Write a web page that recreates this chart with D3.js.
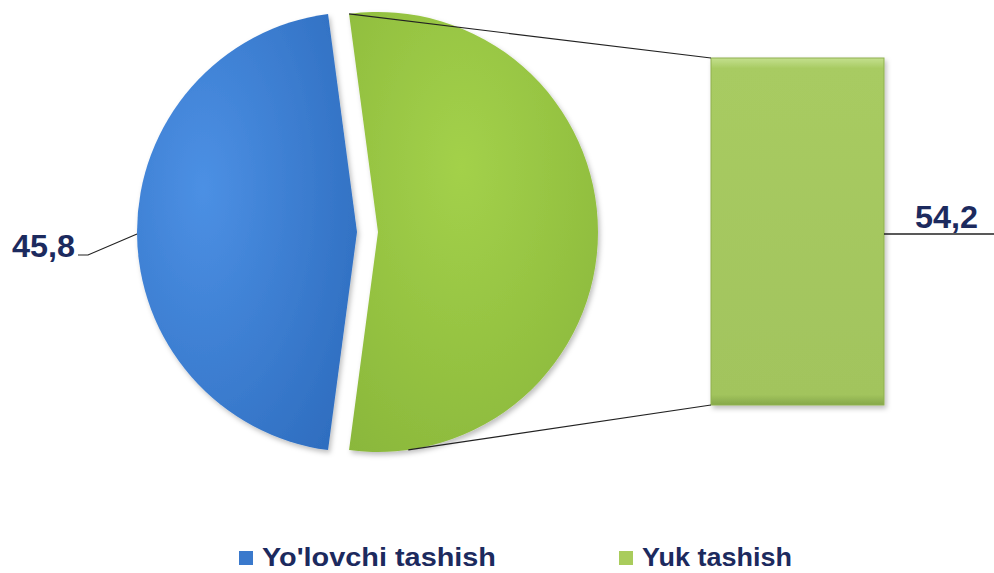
<!DOCTYPE html>
<html><head><meta charset="utf-8">
<script src="https://cdn.jsdelivr.net/npm/d3@7"></script>
<style>html,body{margin:0;padding:0;background:#fff;}svg{display:block;}</style>
</head><body>
<svg id="c" width="994" height="573"></svg>
<script>
const categories = ["Yo'lovchi tashish", "Yuk tashish"];
const values = [45.8, 54.2];
const labels = ["45,8", "54,2"];

const svg = d3.select("#c");
const defs = svg.append("defs");

const gb = defs.append("radialGradient").attr("id","gBlue").attr("cx","30%").attr("cy","40%").attr("r","80%");
gb.append("stop").attr("offset","0%").attr("stop-color","#4C90E4");
gb.append("stop").attr("offset","100%").attr("stop-color","#2F6EC0");
const gg = defs.append("radialGradient").attr("id","gGreen").attr("cx","45%").attr("cy","35%").attr("r","85%");
gg.append("stop").attr("offset","0%").attr("stop-color","#A3D14A");
gg.append("stop").attr("offset","100%").attr("stop-color","#88B53A");
const gbar = defs.append("linearGradient").attr("id","gBar").attr("x1","0").attr("y1","0").attr("x2","0").attr("y2","1");
gbar.append("stop").attr("offset","0%").attr("stop-color","#C4E08E");
gbar.append("stop").attr("offset","3%").attr("stop-color","#A8CB62");
gbar.append("stop").attr("offset","97%").attr("stop-color","#A2C45D");
gbar.append("stop").attr("offset","100%").attr("stop-color","#86A84A");
const f = defs.append("filter").attr("id","sh").attr("x","-10%").attr("y","-10%").attr("width","130%").attr("height","130%");
f.append("feDropShadow").attr("dx",2).attr("dy",3).attr("stdDeviation",2.5).attr("flood-color","#000").attr("flood-opacity",0.25);

// pie geometry: secondary (green) slice centered at 3 o'clock
const cx = 357, cy = 232, R = 220, explode = 21;
const greenSpan = 2*Math.PI*values[1]/d3.sum(values);
const start = Math.PI/2 - greenSpan/2;
const pie = d3.pie().sort(null).value(d => d.v)
  .startAngle(start).endAngle(start + 2*Math.PI);
const arcsData = pie([{i:1, v:values[1]}, {i:0, v:values[0]}]);
const arc = d3.arc().innerRadius(0).outerRadius(R);

const pg = svg.append("g").attr("filter","url(#sh)");
arcsData.forEach(a => {
  const mid = (a.startAngle + a.endAngle)/2;
  const off = a.data.i === 1 ? explode : 0;
  const tx = cx + off*Math.sin(mid), ty = cy - off*Math.cos(mid);
  a.tx = tx; a.ty = ty;
  pg.append("path").attr("d", arc(a))
    .attr("transform", `translate(${tx},${ty})`)
    .attr("fill", a.data.i === 1 ? "url(#gGreen)" : "url(#gBlue)");
});

// secondary bar
const bx0 = 711, bx1 = 884, bTop = 58, bBot = 405;
const y = d3.scaleLinear().domain([0, values[1]]).range([bBot, bTop]);
svg.append("rect").attr("x", bx0).attr("y", y(values[1]))
  .attr("width", bx1 - bx0).attr("height", y(0) - y(values[1]))
  .attr("fill","url(#gBar)").attr("stroke","#8FB050").attr("stroke-width",1)
  .attr("filter","url(#sh)");

// connector lines
const ga = arcsData.find(a => a.data.i === 1);
const p1 = [ga.tx + R*Math.sin(ga.startAngle), ga.ty - R*Math.cos(ga.startAngle)];
const ang2 = ga.endAngle - 0.27;
const p2 = [ga.tx + R*Math.sin(ang2), ga.ty - R*Math.cos(ang2)];
svg.append("line").attr("x1",p1[0]).attr("y1",p1[1]).attr("x2",bx0).attr("y2",y(values[1]))
  .attr("stroke","#222").attr("stroke-width",1.2);
svg.append("line").attr("x1",p2[0]).attr("y1",p2[1]).attr("x2",bx0).attr("y2",y(0))
  .attr("stroke","#222").attr("stroke-width",1.2);

// data labels
const txtColor = "#1C2A5E";
const font = "'Liberation Sans', Arial, sans-serif";
svg.append("text").attr("x", 12).attr("y", 257)
  .attr("font-family", font).attr("font-weight","bold").attr("font-size",31)
  .attr("textLength", 63).attr("lengthAdjust","spacingAndGlyphs")
  .attr("fill", txtColor).text(labels[0]);
svg.append("path").attr("d","M78,255 L88,255 L137,234").attr("fill","none").attr("stroke","#222").attr("stroke-width",1.2);
svg.append("text").attr("x", 915).attr("y", 228)
  .attr("font-family", font).attr("font-weight","bold").attr("font-size",31)
  .attr("textLength", 63).attr("lengthAdjust","spacingAndGlyphs")
  .attr("fill", txtColor).text(labels[1]);
svg.append("line").attr("x1",bx1).attr("y1",234).attr("x2",994).attr("y2",234).attr("stroke","#222").attr("stroke-width",1.4);

// legend
const legX = [239, 619];
const legW = [234, 150];
const legFill = ["#3A79CC", "#A9CC5C"];
categories.forEach((c, i) => {
  svg.append("rect").attr("x", legX[i]).attr("y", 551).attr("width", 14).attr("height", 14)
    .attr("fill", legFill[i]);
  svg.append("text").attr("x", legX[i] + 23).attr("y", 566)
    .attr("font-family", font).attr("font-weight","bold").attr("font-size",25)
    .attr("textLength", legW[i]).attr("lengthAdjust","spacingAndGlyphs")
    .attr("fill", txtColor).text(c);
});
</script>
</body></html>
